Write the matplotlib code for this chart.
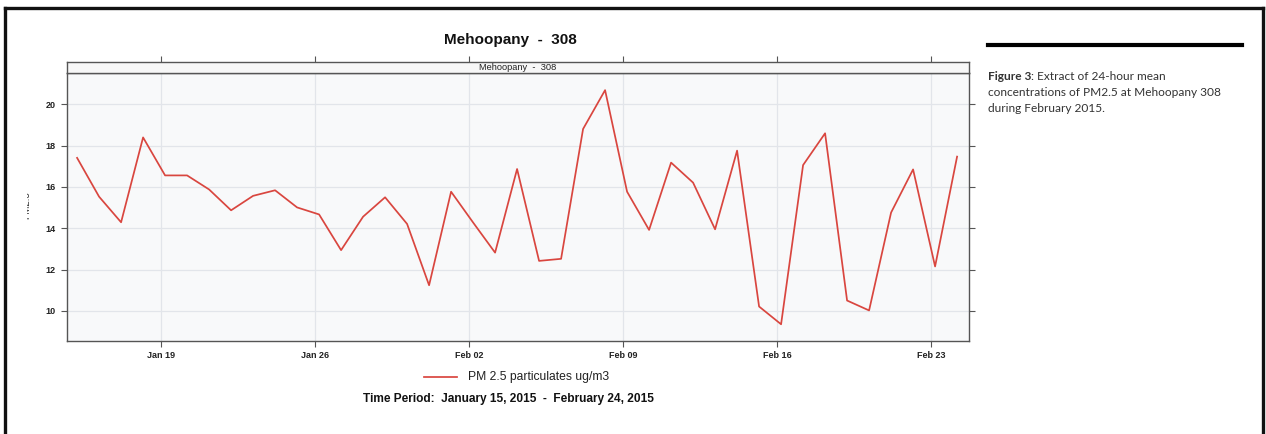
import matplotlib
matplotlib.use('Agg')
import matplotlib.pyplot as plt
import matplotlib.dates as mdates
from matplotlib.lines import Line2D
from matplotlib.transforms import Bbox
import numpy as np
import pandas as pd

# daily PM2.5 means, Jan 15 - Feb 24 2015
start_day = '2015-01-15 04:00'
pm25 = [17.41, 15.53, 14.29, 18.40, 16.56, 16.56, 15.88, 14.87, 15.57, 15.84,
        15.01, 14.67, 12.94, 14.56, 15.50, 14.21, 11.24, 15.77, 14.28, 12.82,
        16.87, 12.42, 12.52, 18.81, 20.69, 15.77, 13.92, 17.18, 16.21, 13.95,
        17.76, 10.21, 9.35, 17.06, 18.60, 10.50, 10.02, 14.76, 16.85, 12.15,
        17.47]
days = pd.date_range(start_day, periods=len(pm25), freq='D')

xtick_dates = pd.to_datetime(['2015-01-19', '2015-01-26', '2015-02-02',
                              '2015-02-09', '2015-02-16', '2015-02-23'])
ytick_vals = [10, 12, 14, 16, 18, 20]

site = 'Mehoopany  -  308'
series_label = 'PM 2.5 particulates ug/m3'
period = 'Time Period:  January 15, 2015  -  February 24, 2015'
caption_bold = 'Figure 3'
caption_rest = [': Extract of 24-hour mean',
                'concentrations of PM2.5 at Mehoopany 308',
                'during February 2015.']

W, H = 1266, 434
fig = plt.figure(figsize=(W / 100, H / 100), dpi=100)
fig.patch.set_facecolor('white')

def px(x, y):
    # pixel (from top-left) -> figure fraction
    return x / W, 1 - y / H

frame_col = '#555555'
grid_col = '#e2e5ea'
line_col = '#d9463f'

ax = fig.add_axes([67 / W, (H - 341) / H, 902 / W, 268 / H])
ax.set_facecolor('#f8f9fa')
ax.plot(days, pm25, color=line_col, lw=1.25)
ax.set_xlim(pd.Timestamp('2015-01-14 17:00'), pd.Timestamp('2015-02-24 17:00'))
ax.set_ylim(8.54, 21.52)
ax.set_xticks(xtick_dates)
ax.xaxis.set_major_formatter(mdates.DateFormatter('%b %d'))
ax.set_yticks(ytick_vals)
ax.grid(True, color=grid_col, lw=0.9)
ax.set_axisbelow(True)
ax.tick_params(axis='both', direction='out', length=4, width=0.8, color=frame_col,
               labelsize=6.5, labelcolor='#222222', pad=3)
ax.tick_params(axis='y', right=True, labelright=False, pad=4)
for lab in ax.get_xticklabels() + ax.get_yticklabels():
    lab.set_fontweight('bold')
    lab.set_family('Liberation Sans')
for s in ax.spines.values():
    s.set_color(frame_col)
    s.set_linewidth(1.0)

# strip on top of the panel
strip = fig.add_axes([67 / W, (H - 73) / H, 902 / W, 11 / H], sharex=ax)
strip.set_facecolor('#f7f7f7')
strip.set_yticks([])
strip.tick_params(axis='x', bottom=False, labelbottom=False, top=True,
                  direction='out', length=4, width=0.8, color=frame_col)
for s in strip.spines.values():
    s.set_color(frame_col)
    s.set_linewidth(1.0)
strip.text(0.5, 0.5, site, transform=strip.transAxes, ha='center', va='center',
           fontsize=6.7, family='Liberation Sans', color='#222222')

# title, legend, x caption
fig.text(*px(510, 40), site, ha='center', va='center', fontsize=11,
         fontweight='bold', family='Liberation Sans', color='#111111')
fig.add_artist(Line2D([424 / W, 457 / W], [1 - 377 / H, 1 - 377 / H],
                      color=line_col, lw=1.25))
fig.text(*px(468, 377), series_label, ha='left', va='center', fontsize=8.7,
         family='Liberation Sans', color='#222222')
fig.text(*px(508, 399), period, ha='center', va='center', fontsize=8.6,
         fontweight='bold', family='Liberation Sans', color='#111111')

# clipped y label
yl = fig.text(*px(26, 205), 'PM2.5', rotation=90, ha='center', va='center',
              fontsize=7, family='Liberation Sans', color='#333333')
yl.set_clip_box(Bbox([[27, 0], [W, H]]))
yl.set_clip_on(True)

# outer frame (left, top, right)
fw = 2.4
fig.add_artist(Line2D([5 / W, 5 / W], [0, 1 - 8 / H], color='#111111', lw=fw))
fig.add_artist(Line2D([5 / W, 1263 / W], [1 - 8 / H, 1 - 8 / H], color='#111111', lw=fw))
fig.add_artist(Line2D([1263 / W, 1263 / W], [0, 1 - 8 / H], color='#111111', lw=fw))

# caption on the right
fig.add_artist(Line2D([988 / W, 1242 / W], [1 - 45 / H, 1 - 45 / H], color='black', lw=3))
cap_fs = 8.6
t0 = fig.text(*px(988, 77), caption_bold, ha='left', va='center', fontsize=cap_fs,
              fontweight='bold', family='Lato', color='#333333')
fig.canvas.draw()
bb = t0.get_window_extent()
fig.text(bb.x1 / W, 1 - 77 / H, caption_rest[0], ha='left', va='center',
         fontsize=cap_fs, family='Lato', color='#333333')
for i, line in enumerate(caption_rest[1:]):
    fig.text(*px(988, 93 + 16 * i), line, ha='left', va='center', fontsize=cap_fs,
             family='Lato', color='#333333')

fig.savefig('out.png', dpi=100)
